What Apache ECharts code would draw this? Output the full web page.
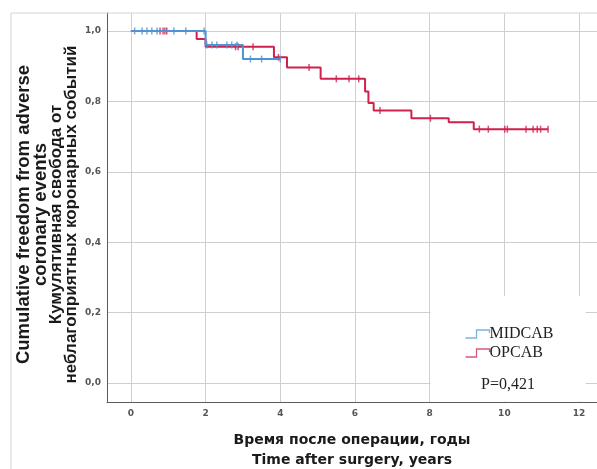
<!DOCTYPE html>
<html>
<head>
<meta charset="utf-8">
<script src="https://cdn.jsdelivr.net/npm/echarts@6/dist/echarts.min.js"></script>
<style>html,body{margin:0;padding:0;background:#fff}#c{width:597px;height:469px}</style>
</head>
<body>
<div id="c"></div>
<script>
// ---- data ----
var xTicks = [0, 2, 4, 6, 8, 10, 12];
var yTicks = [0, 0.2, 0.4, 0.6, 0.8, 1.0];
var seriesNames = ['MIDCAB', 'OPCAB'];
// Kaplan-Meier steps: time of event and survival after it (last entry = end of follow-up)
var midcabTimes = [0, 2.0, 3.0, 4.0];
var midcabSurv  = [1.0, 0.96, 0.92, 0.92];
var midcabCensored = [0.1, 0.3, 0.43, 0.56, 0.7, 1.15, 1.47, 1.96, 2.03, 2.17, 2.3, 2.57, 2.7, 2.84, 3.2, 3.5, 4.0];
var opcabTimes = [0, 1.76, 2.0, 3.83, 4.18, 5.08, 6.27, 6.36, 6.5, 7.51, 8.51, 9.18, 11.17];
var opcabSurv  = [1.0, 0.977, 0.955, 0.925, 0.896, 0.864, 0.828, 0.795, 0.774, 0.752, 0.741, 0.721, 0.721];
var opcabCensored = [0.78, 0.86, 0.91, 0.96, 2.8, 2.87, 3.27, 3.95, 4.77, 5.5, 5.84, 6.1, 6.67, 8.02, 9.33, 9.57, 10.01, 10.08, 10.58, 10.77, 10.88, 10.97, 11.17];
var pValueText = 'P=0,421';

// ---- build ----
function zip(a, b) { return a.map(function (v, i) { return [v, b[i]]; }); }
function survAt(times, surv, t) {
  var s = surv[0];
  for (var i = 0; i < times.length; i++) { if (times[i] <= t) s = surv[i]; }
  return s;
}
function censorPts(cens, times, surv) { return cens.map(function (t) { return [t, survAt(times, surv, t)]; }); }

var BLUE = '#4f93d3', RED = '#d0204c';
var comma = function (v) { return (Math.round(v * 10) / 10).toFixed(1).replace('.', ','); };

var chart = echarts.init(document.getElementById('c'), null, { renderer: 'canvas' });
chart.setOption({
  animation: false,
  backgroundColor: '#fff',
  grid: { left: 107, right: 0, top: 13, bottom: 67, containLabel: false, outerBoundsMode: 'none' },
  xAxis: {
    type: 'value', min: -0.64, max: 12.48,
    axisLine: { show: true, onZero: false, lineStyle: { color: '#5a5a5a', width: 1 } },
    axisTick: { show: false, customValues: xTicks },
    axisLabel: { customValues: xTicks, margin: 7, fontFamily: 'DejaVu Sans', fontSize: 9, fontWeight: 'bold', color: '#555' },
    splitLine: { show: true, lineStyle: { color: '#cfcfcf', width: 1 } },
    name: 'Время после операции, годы\nTime after surgery, years',
    nameLocation: 'middle', nameGap: 28, nameMoveOverlap: false,
    nameTextStyle: { fontFamily: 'DejaVu Sans', fontSize: 14, fontWeight: 'bold', color: '#1a1a1a', lineHeight: 20 }
  },
  yAxis: {
    type: 'value', min: -0.054, max: 1.051,
    axisLine: { show: true, onZero: false, lineStyle: { color: '#5a5a5a', width: 1 } },
    axisTick: { show: false, customValues: yTicks },
    axisLabel: { customValues: yTicks, margin: 6, formatter: comma, fontFamily: 'DejaVu Sans', fontSize: 9, fontWeight: 'bold', color: '#555' },
    splitLine: { show: true, lineStyle: { color: '#cfcfcf', width: 1 } },
    name: '{a|Cumulative freedom from adverse}\n{a|coronary events}\n{b|Кумулятивная свобода от}\n{b|неблагоприятных коронарных событий}',
    nameLocation: 'middle', nameRotate: 90, nameGap: 28, nameMoveOverlap: false,
    nameTextStyle: {
      align: 'center',
      padding: [0, 14, 0, 0],
      rich: {
        a: { fontFamily: 'Liberation Sans', fontSize: 18.5, fontWeight: 'bold', color: '#1a1a1a', lineHeight: 17 },
        b: { fontFamily: 'Liberation Sans', fontSize: 17, fontWeight: 'bold', color: '#1a1a1a', lineHeight: 15 }
      }
    }
  },
  legend: {
    orient: 'vertical', left: 463, top: 326, z: 10,
    itemWidth: 24, itemHeight: 8, itemGap: 3, padding: 0,
    textStyle: { fontFamily: 'Liberation Serif', fontSize: 16, color: '#222', lineHeight: 16, padding: [0, 0, 0, -5] },
    data: [
      { name: seriesNames[0], icon: 'path://M0,8 L11,8 L11,0 L24,0 L24,3', itemStyle: { color: 'none', borderColor: '#7db3dc', borderWidth: 1.3 } },
      { name: seriesNames[1], icon: 'path://M0,8 L11,8 L11,0 L24,0 L24,3', itemStyle: { color: 'none', borderColor: '#d9587c', borderWidth: 1.3 } }
    ]
  },
  graphic: [
    { type: 'rect', z: 5, shape: { x: 11, y: 13, width: 700, height: 600 }, style: { fill: 'none', stroke: '#d4d4d4', lineWidth: 1 }, silent: true },
    { type: 'rect', z: 5, shape: { x: 430.5, y: 296, width: 155, height: 105.5 }, style: { fill: '#fff' }, silent: true },
    { type: 'text', z: 11, x: 508, y: 385, style: { text: pValueText, fontFamily: 'Liberation Serif', fontSize: 16, fill: '#222', align: 'center', verticalAlign: 'middle' } }
  ],
  series: [
    { name: seriesNames[1], type: 'line', step: 'end', data: zip(opcabTimes, opcabSurv), showSymbol: false, symbol: 'none', lineStyle: { color: RED, width: 2 }, itemStyle: { color: RED }, z: 2 },
    { name: seriesNames[1], type: 'scatter', data: censorPts(opcabCensored, opcabTimes, opcabSurv), symbol: 'rect', symbolSize: [1.5, 7], itemStyle: { color: RED }, z: 2 },
    { name: seriesNames[0], type: 'line', step: 'end', data: zip(midcabTimes, midcabSurv), showSymbol: false, symbol: 'none', lineStyle: { color: BLUE, width: 2 }, itemStyle: { color: BLUE }, z: 3 },
    { name: seriesNames[0], type: 'scatter', data: censorPts(midcabCensored, midcabTimes, midcabSurv), symbol: 'rect', symbolSize: [1.5, 7], itemStyle: { color: BLUE }, z: 3 }
  ]
});
</script>
</body>
</html>
